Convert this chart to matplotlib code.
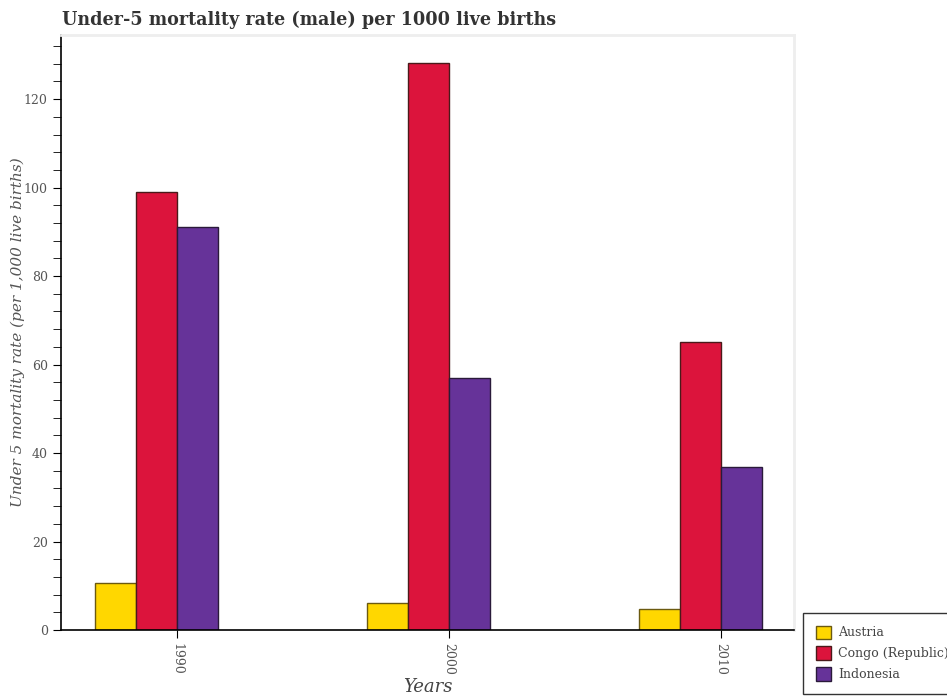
import numpy as np
from matplotlib import pyplot as plt

years = ["1990", "2000", "2010"]
austria = [10.6, 6.1, 4.8]
congo = [99.1, 128.1, 65.2]
indonesia = [91.0, 57.0, 36.8]

series = [("Austria", austria, "#ffd700", "#6b5a10"),
          ("Congo (Republic)", congo, "#dc143c", "#4a1a1a"),
          ("Indonesia", indonesia, "#663399", "#2a1a3a")]

plt.rcParams['font.family'] = ['DejaVu Serif']

fig = plt.figure(figsize=(9.47, 7.0), dpi=100)
ax = fig.add_axes([61/947, 70/700, (794-61)/947, (630-35)/700])

x = np.arange(len(years))
w = 0.15
offsets = [-0.225, -0.075, 0.075]
for (name, vals, col, ec), off in zip(series, offsets):
    ax.bar(x + off, vals, width=w, color=col, edgecolor=ec, linewidth=1.0, label=name)

ax.set_xlim(-0.426, 2.268)
ax.set_ylim(0, 134.5)
ax.set_xticks(x)
ax.set_xticklabels(years, rotation=270, color="#555555", fontsize=9)
ax.set_yticks(np.arange(0, 121, 20))
ax.set_yticks(np.arange(0, 135, 4), minor=True)
ax.tick_params(axis='y', labelcolor="#555555", labelsize=9, length=6)
ax.tick_params(axis='y', which='minor', length=6)
ax.tick_params(axis='x', length=6)

for s in ["top", "right"]:
    ax.spines[s].set_color("#eeeeee")
    ax.spines[s].set_linewidth(2)
ax.spines["left"].set_linewidth(1.2)
ax.spines["bottom"].set_linewidth(1.2)

ax.set_ylabel("Under 5 mortality rate (per 1,000 live births)", fontstyle="italic",
              fontsize=11, color="#555555", va="center")
ax.yaxis.set_label_coords(-43/733, 0.5)
ax.set_xlabel("Years", fontstyle="italic", fontsize=13, color="#444444", va="center")
ax.xaxis.set_label_coords(0.5, -57/595)

fig.text(62/947, 1 - 20/700, "Under-5 mortality rate (male) per 1000 live births",
         fontsize=14, fontweight="bold", color="#333333", va="center", ha="left",
         fontstretch="condensed")

leg = fig.legend(loc="lower left", bbox_to_anchor=(797/947, 0), frameon=True,
                 fontsize=9, fancybox=False, borderpad=1.0, handlelength=1.2,
                 handleheight=1.3, labelspacing=0.55, handletextpad=0.6)
leg.get_frame().set_edgecolor("black")
leg.get_frame().set_linewidth(1.0)
for t in leg.get_texts():
    t.set_color("#444444")

fig.savefig("out.png", dpi=100)
